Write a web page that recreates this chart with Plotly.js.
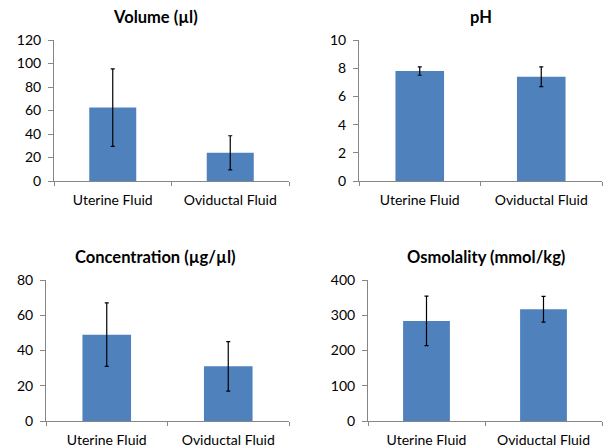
<!DOCTYPE html>
<html>
<head>
<meta charset="utf-8">
<script src="https://cdn.plot.ly/plotly-3.0.1.min.js"></script>
<style>html,body{margin:0;padding:0;background:#fff;}#chart{width:607px;height:447px;}</style>
</head>
<body>
<div id="chart"></div>
<script>
const categories = ["Uterine Fluid", "Oviductal Fluid"];
const titles = ["Volume (µl)", "pH", "Concentration (µg/µl)", "Osmolality (mmol/kg)"];
const volumeMean = [62.5, 24];
const volumeErr = [33, 14.5];
const phMean = [7.8, 7.4];
const phErr = [0.3, 0.7];
const concMean = [49, 31];
const concErr = [18, 14];
const osmoMean = [284, 317];
const osmoErr = [70, 36.5];
const yRanges = [[0, 120], [0, 10], [0, 80], [0, 400]];
const yDtick = [20, 2, 20, 100];

const W = 607, H = 447;
const px = v => v / W;
const py = v => 1 - v / H;

const panels = [
  {mean: volumeMean, err: volumeErr, x: [54, 289], y: [181, 40], tx: 155, ty: 17},
  {mean: phMean, err: phErr, x: [359, 602], y: [181, 40], tx: 481, ty: 17},
  {mean: concMean, err: concErr, x: [46, 289], y: [421, 280], tx: 155, ty: 257},
  {mean: osmoMean, err: osmoErr, x: [368, 602], y: [421, 280], tx: 486, ty: 257}
];

const font = "Lato, 'Liberation Sans', sans-serif";
const traces = [];
const layout = {
  width: W, height: H,
  margin: {l: 0, r: 0, t: 0, b: 0},
  paper_bgcolor: "#fff", plot_bgcolor: "#fff",
  showlegend: false,
  bargap: 0.6,
  font: {family: font, size: 14, color: "#000"},
  annotations: []
};

panels.forEach((p, i) => {
  const n = i + 1;
  const xa = n === 1 ? "x" : "x" + n;
  const ya = n === 1 ? "y" : "y" + n;
  traces.push({
    type: "bar", x: categories, y: p.mean,
    xaxis: xa, yaxis: ya,
    marker: {color: "#4F81BD", line: {color: "#4F81BD", width: 0}},
    error_y: {type: "data", array: p.err, visible: true, color: "#000", thickness: 1.2, width: 2},
    hoverinfo: "none"
  });
  const xk = n === 1 ? "xaxis" : "xaxis" + n;
  const yk = n === 1 ? "yaxis" : "yaxis" + n;
  layout[xk] = {
    domain: [px(p.x[0]), px(p.x[1])],
    anchor: ya,
    type: "category",
    showgrid: false, zeroline: false,
    showline: true, linecolor: "#868686", linewidth: 1,
    ticks: "outside", tickson: "boundaries", ticklen: 4, tickcolor: "#868686",
    ticklabelstandoff: 6,
    tickfont: {family: font, size: 14, color: "#000"},
    fixedrange: true
  };
  layout[yk] = {
    domain: [py(p.y[0]), py(p.y[1])],
    anchor: xa,
    range: yRanges[i],
    dtick: yDtick[i],
    showgrid: false, zeroline: false,
    showline: true, linecolor: "#868686", linewidth: 1,
    ticks: "outside", ticklen: 5, tickcolor: "#868686",
    ticklabelstandoff: 4,
    tickfont: {family: font, size: 14, color: "#000"},
    fixedrange: true
  };
  layout.annotations.push({
    text: "<b>" + titles[i] + "</b>",
    xref: "paper", yref: "paper",
    x: px(p.tx), y: py(p.ty),
    xanchor: "center", yanchor: "middle",
    showarrow: false,
    font: {family: font, size: 16.5, color: "#000"}
  });
});

Plotly.newPlot("chart", traces, layout, {displayModeBar: false, staticPlot: true});
</script>
</body>
</html>
